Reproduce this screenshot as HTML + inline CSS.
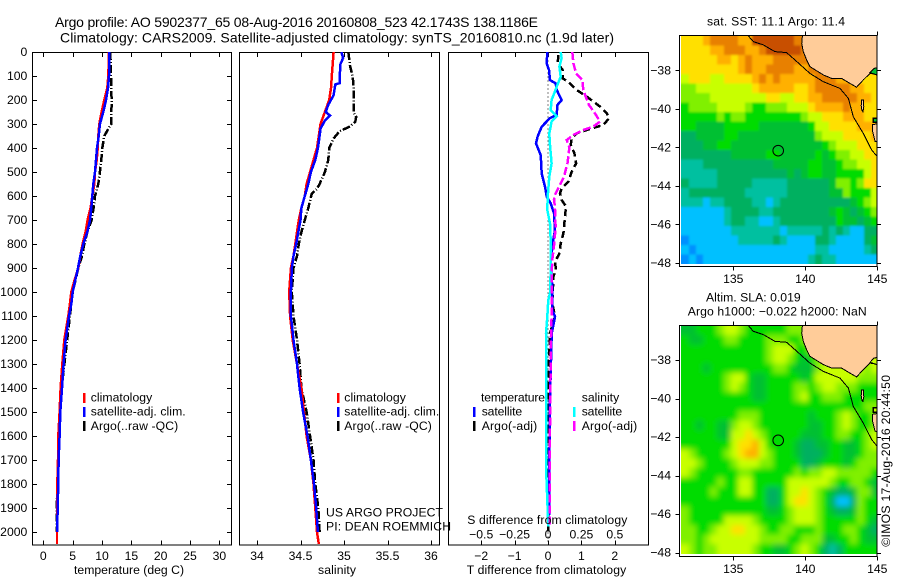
<!DOCTYPE html>
<html lang="en">
<head>
<meta charset="utf-8">
<title>Argo profile 5902377_65</title>
<style>
html,body{margin:0;padding:0;background:#fff;}
svg{display:block;font-family:"Liberation Sans",sans-serif;font-size:12.2px;fill:#000;}
.t{font-size:14px;}
.crisp{shape-rendering:crispEdges;}
</style>
</head>
<body>
<svg id="chart" xmlns="http://www.w3.org/2000/svg" width="900" height="580" viewBox="0 0 900 580">
<rect x="0" y="0" width="900" height="580" fill="#fff"/>
<text class="t" x="55" y="27" textLength="483">Argo profile: AO 5902377_65 08-Aug-2016 20160808_523 42.1743S 138.1186E</text>
<text class="t" x="60" y="42.5" textLength="554">Climatology: CARS2009. Satellite-adjusted climatology: synTS_20160810.nc (1.9d later)</text>

<g id="panelT" class="crisp"></g>
<g id="panelS" class="crisp"></g>
<g id="panelD" class="crisp"></g>
<g id="labels"></g>

<text x="74" y="574" textLength="110">temperature (deg C)</text>
<text x="318" y="574" textLength="38">salinity</text>
<text x="466.7" y="574" textLength="159.5">T difference from climatology</text>
<text x="467.3" y="524" textLength="160">S difference from climatology</text>

<g>
<rect class="crisp" x="83" y="393" width="2.5" height="10" fill="#f00"/>
<rect class="crisp" x="83" y="407" width="2.5" height="10" fill="#00f"/>
<rect class="crisp" x="83" y="421" width="2.5" height="10" fill="#000"/>
<text x="90.7" y="401.7" textLength="61.5">climatology</text>
<text x="90.7" y="415.7" textLength="95">satellite-adj. clim.</text>
<text x="90.7" y="430" textLength="87.5">Argo(..raw -QC)</text>
</g>
<g>
<rect class="crisp" x="337" y="393" width="2.5" height="10" fill="#f00"/>
<rect class="crisp" x="337" y="407" width="2.5" height="10" fill="#00f"/>
<rect class="crisp" x="337" y="421" width="2.5" height="10" fill="#000"/>
<text x="344.3" y="401.7" textLength="61.5">climatology</text>
<text x="344.3" y="415.7" textLength="95">satellite-adj. clim.</text>
<text x="344.3" y="430" textLength="87.5">Argo(..raw -QC)</text>
<text x="326" y="516.7" textLength="117">US ARGO PROJECT</text>
<text x="326" y="530.7" textLength="125">PI: DEAN ROEMMICH</text>
</g>
<g>
<text x="481" y="401.7" textLength="64">temperature</text>
<text x="481.7" y="415.7" textLength="40.5">satellite</text>
<text x="481.7" y="430" textLength="55.5">Argo(-adj)</text>
<rect class="crisp" x="473" y="407" width="2.5" height="10" fill="#00f"/>
<rect class="crisp" x="473" y="421" width="2.5" height="10" fill="#000"/>
<text x="581.7" y="401.7" textLength="37.5">salinity</text>
<text x="581.7" y="415.7" textLength="40.5">satellite</text>
<text x="581.7" y="430" textLength="55.5">Argo(-adj)</text>
<rect class="crisp" x="573" y="407" width="2.5" height="10" fill="#0ff"/>
<rect class="crisp" x="573" y="421" width="2.5" height="10" fill="#f0f"/>
</g>

<text x="707" y="25.3" textLength="138">sat. SST: 11.1  Argo: 11.4</text>
<text x="706" y="301.7" textLength="94.7">Altim. SLA: 0.019</text>
<text x="687.7" y="315.7" textLength="179">Argo h1000: −0.022 h2000: NaN</text>

<defs>
<clipPath id="clip1"><rect x="681" y="36" width="196.5" height="228"/></clipPath>
<clipPath id="clip2"><rect x="681" y="326" width="196.5" height="228"/></clipPath>
<filter id="soft" x="-5%" y="-5%" width="110%" height="110%"><feGaussianBlur stdDeviation="1"/></filter>
<filter id="smooth" x="-5%" y="-5%" width="110%" height="110%"><feGaussianBlur stdDeviation="2.8"/></filter>
</defs>
<g id="map1"></g>
<g id="map2"></g>

<text transform="translate(890 546.7) rotate(-90)" x="0" y="0" textLength="171.7">©IMOS 17-Aug-2016 20:44:50</text>
</svg>

<script>
// ---- profile data (depth in dbar) ----
const tClimDepth = [0,100,150,200,250,300,350,400,450,500,550,600,650,700,750,800,850,900,950,1000,1050,1100,1200,1300,1400,1500,1600,1700,1800,1900,2000,2050];
const tClimValues = [11.19,11.07,10.9,10.39,9.94,9.54,9.37,9.26,9.09,8.8,8.69,8.35,8.06,7.55,7.21,6.7,6.3,5.96,5.34,4.77,4.54,4.26,3.58,3.24,2.95,2.78,2.56,2.5,2.39,2.39,2.33,2.33];
const tSatDepth = [0,100,150,200,250,300,350,400,450,500,550,600,650,700,750,800,850,900,950,1000,1050,1100,1200,1300,1400,1500,1600,1700,1800,1900,2000];
const tSatValues = [11.19,11.19,11.02,10.68,10.22,9.65,9.43,9.14,8.97,8.8,8.52,8.35,8.18,7.95,7.5,6.81,6.3,5.91,5.45,5.0,4.77,4.37,3.8,3.46,3.18,2.9,2.78,2.61,2.56,2.44,2.39];
const tArgoDepth = [0,100,200,300,320,350,400,450,500,550,600,650,700,750,800,850,900,1000,1400,1500,1700,1800,1900,2000];
const tArgoValues = [11.41,11.53,11.64,11.58,11.07,10.39,10.05,9.88,9.65,9.37,8.8,8.57,8.23,7.5,6.98,6.59,5.96,5.0,3.12,2.84,2.56,2.44,2.27,2.27];

const sClimDepth = [0,100,150,200,250,300,350,400,450,500,550,600,650,700,750,800,850,900,1000,1100,1200,1300,1400,1500,1600,1700,1800,1900,2000,2050];
const sClimValues = [34.88,34.86,34.85,34.83,34.78,34.73,34.71,34.69,34.65,34.61,34.57,34.55,34.51,34.48,34.46,34.44,34.42,34.39,34.37,34.38,34.41,34.46,34.51,34.54,34.57,34.62,34.65,34.67,34.69,34.71];
const sSatDepth = [0,25,50,100,130,135,180,220,250,265,285,320,350,400,450,500,550,600,650,700,750,800,850,900,1000,1100,1200,1300,1400,1500,1600,1700,1800,1900,2000];
const sSatValues = [34.97,34.99,34.96,34.95,34.95,34.9,34.88,34.82,34.79,34.84,34.78,34.73,34.72,34.7,34.67,34.62,34.59,34.55,34.51,34.5,34.475,34.45,34.42,34.4,34.39,34.39,34.42,34.46,34.49,34.53,34.58,34.62,34.655,34.68,34.7];
const sArgoDepth = [0,60,100,150,250,270,290,310,330,360,400,450,500,550,570,590,650,700,750,800,850,900,1000,1100,1200,1300,1400,1500,1600,1700,1800,1900,2000];
const sArgoValues = [35.05,35.07,35.1,35.11,35.11,35.14,35.13,35.07,34.95,34.88,34.83,34.82,34.78,34.72,34.69,34.63,34.59,34.55,34.51,34.48,34.46,34.42,34.4,34.42,34.46,34.49,34.51,34.57,34.61,34.65,34.67,34.705,34.72];

const dtSatDepth = [0,47,75,117,131,158,200,221,262,276,311,353,381,429,506,561,603,631,672,742,797,881,978,1075,1103,1172,1450,1728,1930];
const dtSatValues = [-0.02,-0.04,0.03,0.06,0.23,0.26,0.41,0.28,0.26,0.06,-0.19,-0.31,-0.36,-0.22,-0.19,-0.09,-0.04,0.08,0.18,0.21,0.14,0.08,0.13,0.13,0.21,0.11,0.06,0.04,0.04];
const dtArgoDepth = [12,47,75,110,124,158,186,228,256,276,304,318,339,360,388,422,464,499,540,568,589,617,644,686,756,797,839,874,908,936,1019,1033,1103,1172,1242,1450,1589,1728,2006];
const dtArgoValues = [0.31,0.29,0.44,0.44,0.61,0.86,1.16,1.56,1.76,1.83,1.66,1.31,0.86,0.71,0.68,0.79,0.84,0.71,0.61,0.41,0.36,0.41,0.54,0.51,0.46,0.38,0.34,0.21,0.24,0.16,0.14,0.11,0.21,0.06,0.04,-0.01,-0.02,-0.02,0.01];
const dsSatDepth = [0,26,61,103,137,165,200,242,267,290,339,388,464,519,603,658,714,811,908,1006,1033,1103,1172,1450,1728,1867,1978];
const dsSatValues = [0.095,0.102,0.085,0.095,0.07,0.052,0.027,0.02,0.065,0.027,0.01,0.015,0.027,0.01,-0.002,-0.005,0.015,0.022,0.02,0.015,0.002,-0.005,-0.015,-0.015,-0.015,-0.005,0.002];
const dsArgoDepth = [0,47,89,117,158,186,221,256,290,311,325,346,367,397,461,519,568,596,614,644,728,797,864,936,1033,1103,1200,1270,1450,1728,1978];
const dsArgoValues = [0.182,0.19,0.21,0.257,0.264,0.282,0.307,0.352,0.389,0.339,0.264,0.19,0.14,0.16,0.147,0.12,0.077,0.052,0.045,0.052,0.057,0.047,0.032,0.027,0.027,0.027,0.022,0.02,0.017,0.012,0.012];

// ---- tick labels ----
const depthTicks = [0,100,200,300,400,500,600,700,800,900,1000,1100,1200,1300,1400,1500,1600,1700,1800,1900,2000];
const tempTicks = [0,5,10,15,20,25,30];
const salTicks = [34,34.5,35,35.5,36];
const dtTicks = [-2,-1,0,1,2];
const dsTicks = [-0.5,-0.25,0,0.25,0.5];
const lonTicks = [135,140,145];
const latTicks = [-38,-40,-42,-44,-46,-48];

// ---- map fields: colour-scale level per cell, north to south ----
const sstRows = [
[8,8,8,9,10,10,10,10,9,9,11,11,11,11,11,11,10,10,9,9,9,9,9,9,9,9,9,9],
[8,8,8,8,9,9,10,10,10,9,9,10,11,11,11,11,11,10,9,9,9,9,9,9,9,9,9,9],
[8,8,8,8,8,9,9,8,9,10,9,9,9,10,10,10,10,10,9,9,9,9,9,9,9,9,9,9],
[8,8,8,8,8,8,8,8,9,10,9,9,10,10,10,10,9,9,10,10,9,9,9,9,9,9,9,9],
[7,8,8,8,7,7,8,8,8,8,9,10,9,10,9,9,9,9,9,10,10,10,9,9,8,8,8,8],
[6,6,7,7,7,7,7,7,7,7,8,9,9,9,9,9,8,8,9,10,10,10,10,10,9,9,8,8],
[6,6,6,6,7,7,7,7,7,7,7,7,8,8,7,7,8,8,9,9,10,10,10,10,10,9,9,8],
[5,6,6,6,6,7,7,7,7,6,5,5,6,6,6,7,7,7,8,9,9,9,9,10,9,9,8,8],
[5,5,5,5,5,6,5,6,6,5,5,5,5,5,5,5,5,6,7,7,8,8,8,9,9,9,8,8],
[5,5,4,4,4,4,5,5,5,5,5,4,4,4,4,4,4,4,5,7,7,8,8,8,8,9,9,9],
[3,3,4,4,4,4,5,5,4,4,4,4,4,4,4,4,4,4,4,6,7,7,7,8,8,8,8,9],
[3,3,3,4,4,5,5,4,4,4,4,4,4,4,4,4,4,4,4,4,5,6,7,7,7,8,8,8],
[3,3,3,3,3,3,3,4,4,4,4,4,5,5,4,4,4,4,4,5,4,5,6,6,7,7,8,8],
[2,2,2,3,3,3,3,3,3,3,3,3,3,4,4,4,4,4,5,5,4,4,5,6,6,7,7,8],
[2,2,2,2,2,3,3,3,3,3,3,3,3,3,3,4,3,4,5,5,4,4,5,5,5,5,7,8],
[3,2,2,2,2,3,3,3,3,3,2,2,2,2,2,3,3,3,3,3,3,4,6,6,5,6,8,8],
[2,3,3,3,3,3,3,3,3,2,2,2,2,2,2,3,3,3,3,3,3,4,4,6,5,5,5,7],
[2,2,2,1,2,2,3,3,3,3,2,2,1,2,3,3,3,3,3,3,3,3,3,3,4,5,6,7],
[1,1,1,1,1,1,2,3,3,3,3,2,2,3,3,3,3,3,3,3,3,4,5,4,3,4,5,6],
[1,1,1,1,1,1,2,3,3,2,2,1,1,2,3,3,3,3,3,3,3,3,5,4,4,3,4,5],
[1,1,1,1,1,1,1,2,2,2,2,2,2,2,1,2,2,2,2,2,3,2,3,2,1,1,3,3],
[0,1,1,1,1,1,1,1,2,2,2,2,2,3,2,1,1,1,1,3,3,2,1,1,1,1,3,4],
[1,0,1,1,1,1,1,1,1,1,1,1,1,1,1,1,1,1,1,2,2,1,1,1,1,1,2,3],
[0,1,0,1,1,1,1,1,1,1,1,1,1,1,1,1,1,1,2,3,2,2,1,1,1,1,1,1]
];
const slaRows = [
[4,4,5,5,5,6,7,7,6,5,5,5,5,5,5,6,6,6,8,9,5,5,5,5,5,5,5,5],
[5,4,4,5,5,5,6,6,5,5,5,5,6,6,6,5,5,6,7,8,5,5,5,5,5,5,5,5],
[5,5,5,5,5,5,5,5,5,5,5,5,6,7,7,7,5,5,6,7,7,7,8,8,8,5,5,5],
[5,5,5,5,5,5,5,5,5,5,5,5,6,7,7,6,5,4,5,6,7,7,7,7,7,7,7,7],
[5,5,5,4,5,5,5,5,5,5,5,5,5,6,6,5,4,4,4,6,7,7,7,7,7,7,6,7],
[5,5,5,5,5,5,6,7,7,5,4,4,5,5,5,5,5,4,5,7,7,7,7,7,7,6,6,6],
[5,5,5,5,5,5,6,7,6,5,4,4,5,5,5,5,6,6,5,6,7,7,6,6,6,5,5,5],
[5,5,5,5,5,5,5,5,5,5,4,4,5,5,5,5,6,7,5,5,6,6,6,5,5,5,5,5],
[5,5,5,5,5,5,5,5,5,5,5,5,5,5,5,5,5,5,5,5,5,5,5,5,5,5,6,6],
[5,5,5,5,5,5,5,5,6,6,6,5,5,5,5,5,5,5,4,5,5,5,6,7,6,5,5,6],
[5,5,4,5,5,4,4,6,7,7,6,5,5,5,5,5,5,5,4,4,5,5,6,7,6,5,5,6],
[5,5,5,5,5,4,4,7,7,8,7,6,5,5,5,5,5,4,4,4,5,5,6,6,5,5,6,7],
[5,5,5,5,5,5,5,7,8,8,9,7,5,5,5,5,4,3,3,4,4,5,5,4,4,5,6,7],
[7,6,5,5,5,5,6,7,8,9,9,7,6,5,5,5,4,3,3,3,4,5,5,4,4,5,6,6],
[7,7,6,5,5,5,5,6,7,7,7,6,6,5,5,5,5,3,3,4,5,5,5,4,5,6,6,6],
[7,6,5,5,5,5,5,5,6,6,5,5,5,5,5,5,6,5,6,6,7,7,6,6,6,6,6,5],
[5,5,5,5,5,6,5,5,7,7,5,5,5,5,5,7,7,7,7,7,7,6,5,5,6,6,5,4],
[5,5,5,5,6,5,5,5,7,7,5,5,3,3,5,7,7,8,7,6,5,4,3,3,4,6,6,4],
[5,5,5,5,5,5,5,5,5,5,5,5,3,3,5,7,8,8,7,6,5,3,1,1,3,6,5,5],
[6,5,5,5,5,5,5,5,5,5,5,5,4,4,5,6,7,7,7,6,5,4,3,3,4,6,5,5],
[6,5,5,5,5,5,7,7,7,7,6,5,5,5,5,6,7,7,7,6,5,5,5,5,5,6,5,4],
[6,6,5,5,6,7,7,8,8,7,7,6,5,5,6,6,5,5,5,6,5,5,5,6,6,5,4,3],
[6,6,5,6,7,7,7,7,7,7,7,6,6,6,6,5,5,6,6,6,4,4,5,5,6,5,4,4],
[7,6,5,6,6,7,7,7,7,7,6,5,5,4,4,5,6,7,6,5,3,2,3,5,5,5,5,5]
];
const colourScale = ["#0090ff","#00c0ff","#00c0a0","#00b060","#00c030","#00dc00","#80f000","#c8ff00","#ffe000","#ffb000","#e88000","#c85000"];
const gridLon0 = 131.44;
const gridLonStep = 0.4861;
const gridLat0 = -36.22;
const gridLatStep = 0.4935;

// ---- geography ----
const landLon = [139.81,139.75,139.86,140.09,140.32,141.25,141.83,142.52,143.10,143.56,144.03,144.49,145.2,145.2];
const landLat = [-36.1,-36.6,-37.03,-37.46,-37.81,-38.24,-38.42,-38.42,-38.68,-38.88,-38.5,-38.16,-38.24,-36.1];
const shelfLon = [136.04,136.39,137.08,137.89,138.7,139.28,140.32,141.25,142.41,142.99,143.33,144.03,144.61,145,145];
const shelfLat = [-36.21,-36.51,-36.68,-37.03,-37.08,-37.46,-38.16,-38.59,-38.94,-39.46,-40.41,-41.28,-42.14,-42.49,-42.8];
const tasLon = [144.68,145.2,145.2,144.85,144.68];
const tasLat = [-40.82,-40.76,-41.75,-41.7,-41.2];
const bayLon = [144.49,144.77,145.2,145.2];
const bayLat = [-38.12,-37.9,-37.84,-38.3];
const kingLon = [143.92,144.03,144.06,144.0,143.94,143.88];
const kingLat = [-39.55,-39.55,-39.9,-40.15,-40.1,-39.85];
const reefLon = [144.72,145.2,145.2,144.72];
const reefLat = [-40.48,-40.48,-40.7,-40.7];
const argoLon = 138.1186;
const argoLat = -42.1743;

// ---- axis functions ----
const NS = 'http://www.w3.org/2000/svg';
const yDepth = d => 52 + d * 0.24;
const xTemp = v => 43.3 + v * 5.87;
const xSal = v => 257 + (v - 34) * 87;
const xDt = v => 548 + v * 33.4;
const xDs = v => 548 + v * 133.6;
const xLon = v => 733.3 + (v - 135) * 14.4;
const yLat1 = v => 70.3 + (-38 - v) * 19.25;
const yLat2 = v => 360 + (-38 - v) * 19.25;

function el(parent, tag, attrs) {
  const n = document.createElementNS(NS, tag);
  for (const k in attrs) n.setAttribute(k, attrs[k]);
  parent.appendChild(n);
  return n;
}
function pts(xs, ys, fx, fy) {
  return xs.map((v, i) => fx(v).toFixed(1) + ',' + fy(ys[i]).toFixed(1)).join(' ');
}
function profile(parent, name, depths, values, fx, colour, dash) {
  const attrs = { points: values.map((v, i) => fx(v).toFixed(1) + ',' + yDepth(depths[i]).toFixed(1)).join(' '), fill: 'none', stroke: colour, 'stroke-width': 2.5 };
  if (dash) attrs['stroke-dasharray'] = dash;
  const line = el(parent, 'polyline', attrs);
  
  
}
function frame(parent, x0, x1, ticks, fx, withDepthTicks) {
  const box = el(parent, 'rect', { x: x0, y: 52.5, width: x1 - x0, height: 492.5, fill: 'none', stroke: '#000', 'stroke-width': 1 });
  
  
  ticks.forEach(t => {
    const x = Math.round(fx(t)) + 0.5;
    const top = el(parent, 'line', { x1: x, x2: x, y1: 52.5, y2: 57, stroke: '#000' });
    
    
    const bottom = el(parent, 'line', { x1: x, x2: x, y1: 540.5, y2: 545, stroke: '#000' });
    
    
  });
  if (withDepthTicks) depthTicks.forEach(d => {
    const y = Math.round(yDepth(d)) + 0.5;
    const l = el(parent, 'line', { x1: x0, x2: x0 + 4.5, y1: y, y2: y, stroke: '#000' });
    
    
    const r = el(parent, 'line', { x1: x1 - 4.5, x2: x1, y1: y, y2: y, stroke: '#000' });
    
    
  });
}
const labels = document.getElementById('labels');
function label(x, y, str, anchor, name) {
  const t = el(labels, 'text', { x: x, y: y, 'text-anchor': anchor });
  t.textContent = String(str).replace('-', '\u2212');
  
  
}

// temperature panel
const gT = document.getElementById('panelT');
frame(gT, 32.5, 231.5, tempTicks, xTemp, true);
profile(gT, 'argo-temperature-line', tArgoDepth, tArgoValues, xTemp, '#000', '8 2 1 2');
profile(gT, 'climatology-temperature-line', tClimDepth, tClimValues, xTemp, '#f00');
profile(gT, 'satellite-temperature-line', tSatDepth, tSatValues, xTemp, '#00f');

// salinity panel
const gS = document.getElementById('panelS');
frame(gS, 239.5, 439.5, salTicks, xSal, false);
profile(gS, 'argo-salinity-line', sArgoDepth, sArgoValues, xSal, '#000', '8 2 1 2');
profile(gS, 'climatology-salinity-line', sClimDepth, sClimValues, xSal, '#f00');
profile(gS, 'satellite-salinity-line', sSatDepth, sSatValues, xSal, '#00f');

// difference panel
const gD = document.getElementById('panelD');
frame(gD, 448.5, 648.5, dtTicks, xDt, false);
const zero = el(gD, 'line', { x1: xDt(0), x2: xDt(0), y1: 52.5, y2: 545, stroke: '#000', 'stroke-dasharray': '1 3' });


profile(gD, 'argo-temperature-difference-line', dtArgoDepth, dtArgoValues, xDt, '#000', '7 4');
profile(gD, 'satellite-temperature-difference-line', dtSatDepth, dtSatValues, xDt, '#00f');
profile(gD, 'satellite-salinity-difference-line', dsSatDepth, dsSatValues, xDs, '#0ff');
profile(gD, 'argo-salinity-difference-line', dsArgoDepth, dsArgoValues, xDs, '#f0f', '8 3');

// tick labels
depthTicks.forEach(d => label(27.3, yDepth(d) + 4.2, d, 'end', 'depth-tick-label'));
tempTicks.forEach(t => label(xTemp(t), 560, t, 'middle', 'temperature-tick-label'));
salTicks.forEach(t => label(xSal(t), 560, t, 'middle', 'salinity-tick-label'));
dtTicks.forEach(t => label(xDt(t), 560, t, 'middle', 't-difference-tick-label'));
dsTicks.forEach(t => label(xDs(t), 538.7, t, 'middle', 's-difference-tick-label'));

// maps
function drawMap(gid, rows, yLat, clip, top, bottom, island, blurId, fieldName, lonLabelY) {
  const g = document.getElementById(gid);
  const clipped = el(g, 'g', { 'clip-path': 'url(#' + clip + ')' });
  const field = el(clipped, 'g', { class: 'crisp', filter: 'url(#' + blurId + ')' });
  const pad = 12;
  const lastRow = rows.length - 1;
  rows.forEach((row, r) => row.forEach((level, c) => {
    const lastCol = row.length - 1;
    const x = xLon(gridLon0 + c * gridLonStep);
    const y = yLat(gridLat0 - r * gridLatStep);
    const w = gridLonStep * 14.4 + 0.3;
    const h = gridLatStep * 19.25 + 0.3;
    // edge cells bleed past the clip so the soft filter does not fade the map border
    const cx = c === 0 ? x - pad : x;
    const cy = r === 0 ? y - pad : y;
    const cw = w + (c === 0 ? pad : 0) + (c === lastCol ? pad : 0);
    const ch = h + (r === 0 ? pad : 0) + (r === lastRow ? pad : 0);
    const cell = el(field, 'rect', { x: cx.toFixed(2), y: cy.toFixed(2), width: cw.toFixed(2), height: ch.toFixed(2), fill: colourScale[level] });
    
    
  }));
  const land = el(clipped, 'polygon', { points: pts(landLon, landLat, xLon, yLat), fill: '#ffcc99', stroke: '#000', 'stroke-width': 1, class: 'crisp' });
  
  
  const tas = el(clipped, 'polygon', { points: pts(tasLon, tasLat, xLon, yLat), fill: '#ffcc99', stroke: '#000', 'stroke-width': 1, class: 'crisp' });
  
  
  const reef = el(clipped, 'polygon', { points: pts(reefLon, reefLat, xLon, yLat), fill: island, stroke: '#000', 'stroke-width': 1.5, class: 'crisp' });
  
  
  const bay = el(clipped, 'polygon', { points: pts(bayLon, bayLat, xLon, yLat), fill: island, stroke: '#000', 'stroke-width': 1, class: 'crisp' });
  
  
  const king = el(clipped, 'polygon', { points: pts(kingLon, kingLat, xLon, yLat), fill: '#ffcc99', stroke: '#000', 'stroke-width': 1, class: 'crisp' });
  
  
  const shelf = el(clipped, 'polyline', { points: pts(shelfLon, shelfLat, xLon, yLat), fill: 'none', stroke: '#000', 'stroke-width': 1, class: 'crisp' });
  
  
  const circle = el(g, 'circle', { cx: xLon(argoLon), cy: yLat(argoLat), r: 5.3, fill: 'none', stroke: '#000', 'stroke-width': 1 });
  
  
  const box = el(g, 'rect', { x: 679.5, y: top, width: 197.5, height: bottom - top, fill: 'none', stroke: '#000', class: 'crisp' });
  
  
  lonTicks.forEach(v => {
    const x = Math.round(xLon(v)) + 0.5;
    const t1 = el(g, 'line', { x1: x, x2: x, y1: top - 4, y2: top, stroke: '#000', class: 'crisp' });
    
    
    const t2 = el(g, 'line', { x1: x, x2: x, y1: bottom, y2: bottom + 4, stroke: '#000', class: 'crisp' });
    
    
    label(xLon(v), lonLabelY, v, 'middle', 'lon-tick-label');
  });
  latTicks.forEach(v => {
    const y = Math.round(yLat(v)) + 0.5;
    const t1 = el(g, 'line', { x1: 675.5, x2: 679.5, y1: y, y2: y, stroke: '#000', class: 'crisp' });
    
    
    const t2 = el(g, 'line', { x1: 877, x2: 881, y1: y, y2: y, stroke: '#000', class: 'crisp' });
    
    
    label(671, yLat(v) + 4.2, v, 'end', 'lat-tick-label');
  });
}
drawMap('map1', sstRows, yLat1, 'clip1', 35.5, 266.5, '#00c030', 'soft', 'sst', 283);
drawMap('map2', slaRows, yLat2, 'clip2', 325.5, 556.5, '#c8ff00', 'smooth', 'sla', 573);
</script>
</body>
</html>
